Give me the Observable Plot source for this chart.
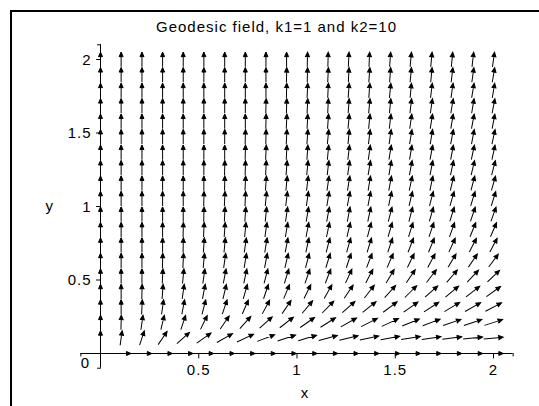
<!DOCTYPE html>
<html><head><meta charset="utf-8">
<script src="https://cdn.jsdelivr.net/npm/d3@7"></script>
<script src="https://cdn.jsdelivr.net/npm/@observablehq/plot@0.6"></script>
<style>
html,body{margin:0;padding:0;background:#fff;}
#wrap{position:relative;width:539px;height:406px;overflow:hidden;}
#frame{position:absolute;left:10px;top:10px;right:-5px;bottom:-5px;border-top:2px solid #000;border-left:2px solid #000;pointer-events:none;}
svg{display:block}
</style></head><body>
<div id="wrap"><div id="frame"></div></div>
<script>
// ---- data ----
const title = "Geodesic field, k1=1 and k2=10";
const xLabel = "x";
const yLabel = "y";
const originLabel = "0";
const xTicks = [0.5, 1, 1.5, 2];
const xTickLabels = ["0.5", "1", "1.5", "2"];
const yTicks = [0.5, 1, 1.5, 2];
const yTickLabels = ["0.5", "1", "1.5", "2"];
const axisRange = [-0.1, 2.1];
// grid of the field (20 x 20 points)
const xGrid = [0, 0.105, 0.211, 0.316, 0.421, 0.526, 0.632, 0.737, 0.842, 0.947, 1.053, 1.158, 1.263, 1.368, 1.474, 1.579, 1.684, 1.789, 1.895, 2];
const yGrid = [0, 0.105, 0.211, 0.316, 0.421, 0.526, 0.632, 0.737, 0.842, 0.947, 1.053, 1.158, 1.263, 1.368, 1.474, 1.579, 1.684, 1.789, 1.895, 2];
// direction of each arrow in degrees (data space), one row per y value, one entry per x value
const angleRows = [
  [null,0,0,0,0,0,0,0,0,0,0,0,0,0,0,0,0,0,0,0],
  [90,84,76,63,50,43,37,32,27,24,22,20,18,16,14,12,11,10,8,7],
  [90,89,84,80,76,70,63,56,50,46,43,40,37,34,32,29,27,25,24,23],
  [90,90,88,84,82,79,76,72,68,63,58,54,50,47,45,43,41,39,37,35],
  [90,90,89,87,84,82,80,78,76,73,70,67,63,60,56,53,50,48,46,44],
  [90,90,90,88,86,84,82,81,79,77,76,74,71,69,66,63,60,57,55,52],
  [90,90,90,89,88,86,84,83,82,80,79,77,76,74,72,70,68,66,63,61],
  [90,90,90,90,89,87,86,84,83,82,81,79,78,77,76,74,73,71,69,68],
  [90,90,90,90,89,88,87,86,84,83,82,81,80,79,78,77,76,75,73,72],
  [90,90,90,90,90,89,88,87,86,84,83,82,82,81,79,79,78,77,76,75],
  [90,90,90,90,90,89,88,88,86,85,84,83,82,82,81,80,79,78,77,77],
  [90,90,90,90,90,90,89,88,87,86,85,84,83,83,82,81,81,80,79,78],
  [90,90,90,90,90,90,89,89,88,87,86,85,84,83,83,82,82,81,80,79],
  [90,90,90,90,90,90,90,89,88,88,87,86,85,84,83,83,82,82,81,81],
  [90,90,90,90,90,90,90,89,89,88,87,86,86,85,84,83,83,82,82,81],
  [90,90,90,90,90,90,90,90,89,88,88,87,86,86,85,84,83,83,82,82],
  [90,90,90,90,90,90,90,90,89,89,88,88,87,86,86,85,84,83,83,82],
  [90,90,90,90,90,90,90,90,90,89,88,88,87,87,86,86,85,84,83,83],
  [90,90,90,90,90,90,90,90,90,89,89,88,88,87,87,86,86,85,84,83],
  [90,90,90,90,90,90,90,90,90,90,89,89,88,88,87,86,86,86,85,84]
];
const arrowLength = 0.1; // data units

// ---- layout ----
const W = 539, H = 406;
const ml = 80.35, mr = 26.35, mt = 44.3, mb = 38.3;
const kx = (W - ml - mr) / (axisRange[1] - axisRange[0]);
const ky = (H - mt - mb) / (axisRange[1] - axisRange[0]);

const field = [];
yGrid.forEach((y, j) => xGrid.forEach((x, i) => {
  const a = angleRows[j][i];
  if (a != null) field.push({x, y, a});
}));
function screenLen(a) {
  const r = a * Math.PI / 180;
  return arrowLength * Math.hypot(kx * Math.cos(r), ky * Math.sin(r));
}
function screenRot(a) {
  const r = a * Math.PI / 180;
  return Math.atan2(kx * Math.cos(r), ky * Math.sin(r)) * 180 / Math.PI;
}
const arrowShape = {
  draw(ctx, l) {
    ctx.moveTo(0, 0);
    ctx.lineTo(0, -l);
    ctx.moveTo(0, -l);
    ctx.lineTo(-2, -l + 4.5);
    ctx.lineTo(2, -l + 4.5);
    ctx.closePath();
  }
};
const lineShape = {
  draw(ctx, l) { ctx.moveTo(0, 0); ctx.lineTo(0, -l); }
};

const font = "'Liberation Sans', Arial, Helvetica, sans-serif";
const chart = Plot.plot({
  width: W, height: H,
  marginLeft: ml, marginRight: mr, marginTop: mt, marginBottom: mb,
  x: {domain: axisRange, axis: null},
  y: {domain: axisRange, axis: null},
  length: {type: "identity"},
  style: {fontFamily: font, fontSize: "15px", letterSpacing: "1px", color: "black", background: "transparent", overflow: "visible"},
  marks: [
    Plot.ruleY([0], {stroke: "black", strokeWidth: 1}),
    Plot.ruleX([0], {stroke: "black", strokeWidth: 1}),
    Plot.vector(xTicks, {x: d => d, y: 0, length: 4.5, rotate: 180, anchor: "start", shape: lineShape, stroke: "black", strokeWidth: 1}),
    Plot.vector(yTicks, {x: 0, y: d => d, length: 4, rotate: 270, anchor: "start", shape: lineShape, stroke: "black", strokeWidth: 1}),
    Plot.vector(axisRange, {x: d => d, y: 0, length: 2.5, rotate: 180, anchor: "start", shape: lineShape, stroke: "black", strokeWidth: 1}),
    Plot.vector(axisRange, {x: 0, y: d => d, length: 3, rotate: 270, anchor: "start", shape: lineShape, stroke: "black", strokeWidth: 1}),
    Plot.vector(field, {
      x: "x", y: "y",
      length: d => screenLen(d.a),
      rotate: d => screenRot(d.a),
      anchor: "middle", shape: arrowShape,
      stroke: "black", fill: "black", strokeWidth: 1, strokeLinecap: "butt", strokeLinejoin: "miter"
    }),
    Plot.text(xTicks, {x: d => d, y: 0, text: (d, i) => xTickLabels[i], dy: 21, lineAnchor: "bottom", fill: "black"}),
    Plot.text(yTicks, {x: 0, y: d => d, text: (d, i) => yTickLabels[i], dx: -9, dy: 5.3, textAnchor: "end", lineAnchor: "bottom", fill: "black"}),
    Plot.text([originLabel], {x: 0, y: 0, text: d => d, dx: -15, dy: 14, lineAnchor: "bottom", fill: "black"}),
    Plot.text([xLabel], {frameAnchor: "bottom", text: d => d, dx: 8, dy: 29.3, lineAnchor: "bottom", fill: "black"}),
    Plot.text([yLabel], {frameAnchor: "left", text: d => d, dx: -35.3, dy: 4, lineAnchor: "bottom", fill: "black"}),
    Plot.text([title], {frameAnchor: "top", text: d => d, dx: -20.5, dy: -12.8, lineAnchor: "bottom", fill: "black"})
  ]
});
document.getElementById("wrap").prepend(chart);
</script>
</body></html>
